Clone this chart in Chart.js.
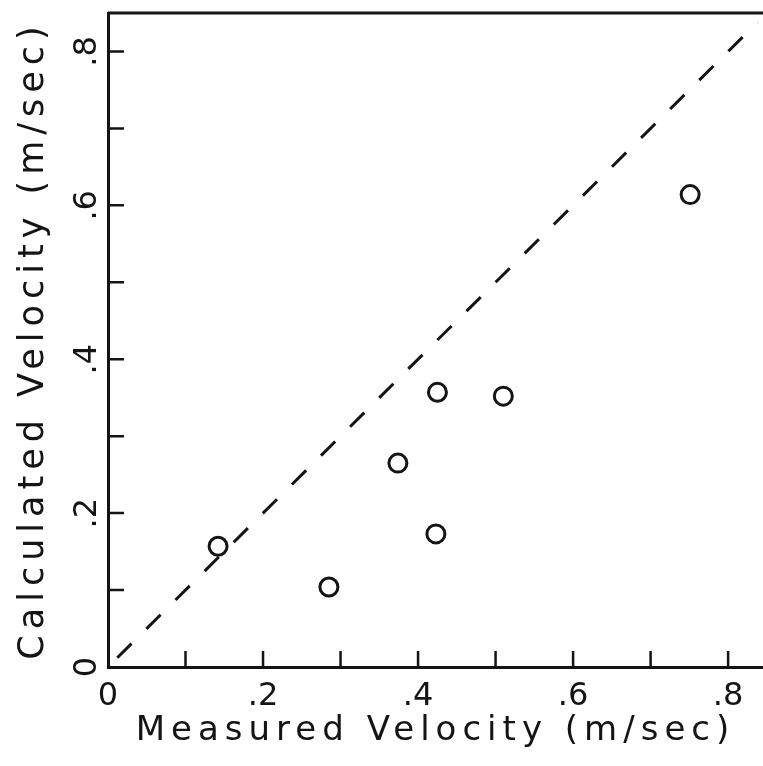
<!DOCTYPE html>
<html lang="en">
<head>
<meta charset="UTF-8">
<title>Measured vs Calculated Velocity</title>
<script src="https://cdn.jsdelivr.net/npm/chart.js"></script>
<style>
  html, body { margin: 0; padding: 0; background: #fff; }
  canvas { display: block; }
</style>
</head>
<body>
<canvas id="grafico" width="763" height="766"></canvas>
<script>
// velocities in m/sec
const measured   = [0.142, 0.285, 0.374, 0.423, 0.425, 0.510, 0.751];
const calculated = [0.157, 0.104, 0.265, 0.173, 0.357, 0.352, 0.614];
// 1:1 line
const lineX = [0.012, 0.838];
const lineY = [0.012, 0.838];
// labels for every other 0.1 step
const tickLabels = ['0', '.2', '.4', '.6', '.8'];

const ink = '#141414';
const fontFamily = '"DejaVu Sans", sans-serif';

function tickText(v) {
  const k = Math.round(v * 10);
  if (Math.abs(v * 10 - k) > 1e-6 || k % 2) return '';
  return tickLabels[k / 2] || '';
}

function isStep(v) {
  return Math.abs(v * 10 - Math.round(v * 10)) < 1e-6;
}

// wide lettering for the axis titles, inward ticks, top rule, tick labels
const frame = {
  id: 'frame',
  beforeDraw(chart) {
    chart.ctx.letterSpacing = '6px';
  },
  afterDraw(chart) {
    const { ctx, chartArea, scales: { x, y } } = chart;
    ctx.save();
    ctx.letterSpacing = '0px';
    ctx.strokeStyle = ink;
    ctx.fillStyle = ink;
    ctx.lineWidth = 2.5;
    ctx.beginPath();
    x.ticks.forEach(t => {
      if (t.value <= 0 || !isStep(t.value)) return;
      const px = x.getPixelForValue(t.value);
      ctx.moveTo(px, chartArea.bottom);
      ctx.lineTo(px, chartArea.bottom - 16);
    });
    y.ticks.forEach(t => {
      if (t.value <= 0 || !isStep(t.value)) return;
      const py = y.getPixelForValue(t.value);
      ctx.moveTo(chartArea.left, py);
      ctx.lineTo(chartArea.left + 16, py);
    });
    ctx.stroke();

    ctx.lineWidth = 3;
    ctx.beginPath();
    ctx.moveTo(chartArea.left, chartArea.top);
    ctx.lineTo(chartArea.right, chartArea.top);
    ctx.stroke();

    ctx.font = '32px ' + fontFamily;
    ctx.textAlign = 'center';
    ctx.textBaseline = 'middle';
    x.ticks.forEach(t => {
      const txt = tickText(t.value);
      if (!txt) return;
      ctx.fillText(txt, x.getPixelForValue(t.value), chartArea.bottom + 30);
    });
    y.ticks.forEach(t => {
      const txt = tickText(t.value);
      if (!txt) return;
      ctx.save();
      ctx.translate(chartArea.left - 20, y.getPixelForValue(t.value));
      ctx.rotate(-Math.PI / 2);
      ctx.fillText(txt, 0, 0);
      ctx.restore();
    });
    ctx.restore();
  }
};

new Chart(document.getElementById('grafico'), {
  type: 'scatter',
  data: {
    datasets: [
      {
        data: measured.map((m, i) => ({ x: m, y: calculated[i] })),
        pointStyle: 'circle',
        pointRadius: 9,
        pointBorderWidth: 3,
        pointBorderColor: ink,
        pointBackgroundColor: '#fff',
        order: 0
      },
      {
        type: 'line',
        data: lineX.map((v, i) => ({ x: v, y: lineY[i] })),
        borderColor: ink,
        borderWidth: 3,
        borderDash: [20, 21],
        pointRadius: 0,
        fill: false,
        clip: false,
        order: 1
      }
    ]
  },
  options: {
    responsive: false,
    animation: false,
    layout: { autoPadding: false, padding: { top: 13, right: 0, left: 0, bottom: 0 } },
    plugins: { legend: { display: false }, tooltip: { enabled: false } },
    scales: {
      x: {
        type: 'linear',
        min: 0,
        max: 0.845,
        afterFit(scale) { scale.height = 99; },
        border: { display: true, color: ink, width: 3 },
        grid: { display: false },
        ticks: {
          stepSize: 0.1,
          includeBounds: false,
          autoSkip: false,
          display: false
        },
        title: {
          display: true,
          text: 'Measured Velocity (m/sec)',
          color: ink,
          font: { family: fontFamily, size: 34 },
          padding: { top: 0, bottom: 14 }
        }
      },
      y: {
        type: 'linear',
        min: 0,
        max: 0.85,
        afterFit(scale) { scale.width = 108; },
        border: { display: true, color: ink, width: 3 },
        grid: { display: false },
        ticks: {
          stepSize: 0.1,
          includeBounds: false,
          autoSkip: false,
          display: false
        },
        title: {
          display: true,
          text: 'Calculated Velocity (m/sec)',
          color: ink,
          font: { family: fontFamily, size: 35 },
          padding: { top: 13, bottom: 0 }
        }
      }
    }
  },
  plugins: [frame]
});
</script>
</body>
</html>
